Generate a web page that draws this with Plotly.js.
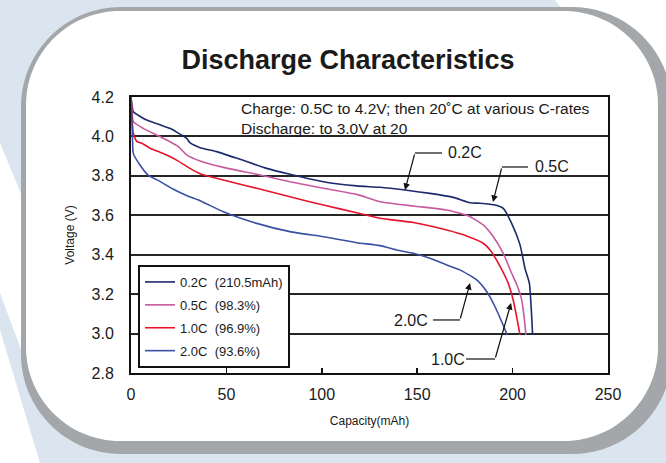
<!DOCTYPE html>
<html>
<head>
<meta charset="utf-8">
<script src="https://cdn.plot.ly/plotly-3.0.1.min.js"></script>
<style>
  html, body { margin: 0; padding: 0; background: #ffffff; }
  #chart { width: 666px; height: 463px; }
</style>
</head>
<body>
<div id="chart"></div>
<script>
// ---- Data ----
const seriesNames = ["0.2C\u00a0\u00a0(210.5mAh)", "0.5C\u00a0\u00a0(98.3%)", "1.0C\u00a0\u00a0(96.9%)", "2.0C\u00a0\u00a0(93.6%)"];
const seriesColors = ["#1b2a6b", "#c75aa0", "#e5142b", "#3b4fa3"];

const capacity02 = [0, 0.5, 1.2, 5, 8.2, 13.4, 16.9, 20.4, 23.9, 29.2, 30.9, 36.2, 44.9, 57.1, 71.1, 83.3, 100.8, 118.3, 130.5, 143.6, 156.7, 168.9, 177.7, 182.9, 190.8, 195.1, 199.5, 203.9, 206.5, 208.8, 210.0, 210.5];
const voltage02  = [4.20, 4.16, 4.125, 4.10, 4.083, 4.065, 4.053, 4.041, 4.022, 3.99, 3.968, 3.943, 3.923, 3.884, 3.838, 3.808, 3.770, 3.749, 3.742, 3.728, 3.711, 3.691, 3.664, 3.661, 3.652, 3.635, 3.559, 3.45, 3.33, 3.255, 3.086, 2.993];

const capacity05 = [0, 0.4, 1.2, 6.4, 13.4, 20.4, 24.8, 29.2, 36.2, 48.4, 65.9, 83.3, 100.8, 118.3, 130.5, 148, 165.5, 172.4, 177.7, 184.6, 189.9, 195.1, 199.5, 202.1, 204.8, 206.0, 207.0];
const voltage05  = [4.20, 4.15, 4.075, 4.041, 4.007, 3.973, 3.948, 3.906, 3.875, 3.843, 3.808, 3.770, 3.737, 3.706, 3.669, 3.647, 3.627, 3.610, 3.593, 3.551, 3.491, 3.407, 3.306, 3.250, 3.170, 3.086, 2.993];

const capacity10 = [0, 0.4, 1.2, 3.0, 6.4, 10.0, 15.2, 18.7, 23.9, 30.9, 36.2, 48.4, 65.9, 83.3, 100.8, 118.3, 130.5, 148, 165.5, 175.9, 184.6, 188.5, 192.5, 197.7, 200.3, 202.1, 203.9];
const voltage10  = [4.20, 4.12, 4.016, 3.975, 3.962, 3.940, 3.920, 3.906, 3.880, 3.838, 3.811, 3.779, 3.737, 3.694, 3.652, 3.613, 3.585, 3.563, 3.525, 3.495, 3.458, 3.42, 3.357, 3.255, 3.170, 3.086, 2.993];

const capacity20 = [0, 0.4, 0.8, 1.2, 4.7, 9.1, 13.4, 18.7, 22.2, 30.0, 36.2, 48.4, 65.9, 83.3, 100.8, 118.3, 130.5, 139.3, 148, 156.7, 165.5, 172.4, 181.2, 186.4, 190.8, 194.3, 197.2];
const voltage20  = [4.20, 4.10, 3.98, 3.914, 3.855, 3.802, 3.781, 3.752, 3.732, 3.697, 3.674, 3.618, 3.559, 3.517, 3.491, 3.461, 3.446, 3.424, 3.407, 3.382, 3.348, 3.323, 3.272, 3.213, 3.136, 3.060, 2.993];

const xTickValues = [0, 50, 100, 150, 200, 250];
const yTickValues = [2.8, 3.0, 3.2, 3.4, 3.6, 3.8, 4.0, 4.2];

const chartTitle = "Discharge Characteristics";
const xTitle = "Capacity(mAh)";
const yTitle = "Voltage (V)";
const noteText = "Charge: 0.5C to 4.2V; then 20\u02DAC at various C-rates<br>Discharge: to 3.0V at 20";

// Curve labels with leader lines (text position, elbow, arrow tip in data units)
const labelTexts = ["0.2C", "0.5C", "2.0C", "1.0C"];
const labelPos   = [[175.0, 3.916], [220.9, 3.845], [146.5, 3.066], [166.4, 2.871]];
const labelElbow = [[148.8, 3.916], [194.4, 3.845], [172.4, 3.069], [190.8, 2.871]];
const labelHEnd  = [[163.0, 3.916], [208.1, 3.845], [158.3, 3.069], [175.6, 2.871]];
const labelTip   = [[143.6, 3.728], [189.7, 3.667], [177.7, 3.257], [199.2, 3.155]];

// ---- Page geometry ----
const W = 666, H = 463;
const M = { l: 131, r: 58, t: 97, b: 90 };
const PW = W - M.l - M.r, PH = H - M.t - M.b;
function px(x) { return ((x - M.l) / PW).toFixed(5); }
function py(y) { return (1 - (y - M.t) / PH).toFixed(5); }
function poly(pts) {
  return pts.map((p, i) => (i ? "L" : "M") + px(p[0]) + "," + py(p[1])).join(" ") + " Z";
}
function roundRect(x0, y0, x1, y1, r) {
  const k = 0.5523 * r;
  const P = (x, y) => px(x) + "," + py(y);
  return "M" + P(x0 + r, y0) +
    " L" + P(x1 - r, y0) +
    " C" + P(x1 - r + k, y0) + " " + P(x1, y0 + r - k) + " " + P(x1, y0 + r) +
    " L" + P(x1, y1 - r) +
    " C" + P(x1, y1 - r + k) + " " + P(x1 - r + k, y1) + " " + P(x1 - r, y1) +
    " L" + P(x0 + r, y1) +
    " C" + P(x0 + r - k, y1) + " " + P(x0, y1 - r + k) + " " + P(x0, y1 - r) +
    " L" + P(x0, y0 + r) +
    " C" + P(x0, y0 + r - k) + " " + P(x0 + r - k, y0) + " " + P(x0 + r, y0) + " Z";
}

const bgBlue = "#dae5f0";
const shapes = [
  { type: "path", xref: "paper", yref: "paper", layer: "below", line: { width: 0 }, fillcolor: bgBlue,
    path: poly([[0, 0], [555, 0], [572, 22], [22, 196], [0, 143]]) },
  { type: "path", xref: "paper", yref: "paper", layer: "below", line: { width: 0 }, fillcolor: bgBlue,
    path: poly([[0, 293], [22, 352], [90, 380], [666, 380], [666, 463], [40, 463], [0, 330]]) },
  { type: "path", xref: "paper", yref: "paper", layer: "below", line: { width: 0 }, fillcolor: "#a3a7a9",
    path: roundRect(21, 7, 672, 454, 100) },
  { type: "path", xref: "paper", yref: "paper", layer: "below", line: { width: 0 }, fillcolor: "#ffffff",
    path: roundRect(26, 11, 658, 441, 94) }
];

// leader horizontal segments
for (let i = 0; i < labelTexts.length; i++) {
  shapes.push({ type: "line", xref: "x", yref: "y",
    x0: labelElbow[i][0], y0: labelElbow[i][1], x1: labelHEnd[i][0], y1: labelHEnd[i][1],
    line: { color: "#111", width: 1.2 } });
}

const annotations = [
  { xref: "x", yref: "y", x: 56.6, y: 4.091, xanchor: "left", yanchor: "middle", align: "left",
    text: noteText, showarrow: false, font: { size: 15.5, color: "#1a1a1a" } }
];
for (let i = 0; i < labelTexts.length; i++) {
  annotations.push({ xref: "x", yref: "y", x: labelPos[i][0], y: labelPos[i][1],
    text: labelTexts[i], showarrow: false, font: { size: 16, color: "#1a1a1a" } });
  annotations.push({ xref: "x", yref: "y", x: labelTip[i][0], y: labelTip[i][1],
    axref: "x", ayref: "y", ax: labelElbow[i][0], ay: labelElbow[i][1],
    text: "", showarrow: true, arrowhead: 2, arrowsize: 1.1, arrowwidth: 1.2, arrowcolor: "#111",
    standoff: 0, startstandoff: 0 });
}

const xs = [capacity02, capacity05, capacity10, capacity20];
const ys = [voltage02, voltage05, voltage10, voltage20];
const traces = xs.map((x, i) => ({
  type: "scatter", mode: "lines", x: x, y: ys[i], name: seriesNames[i],
  legendgroup: "g" + i,
  line: { color: seriesColors[i], width: 1.6, shape: "spline", smoothing: 0.5 }
}));

const layout = {
  width: W, height: H,
  margin: M,
  paper_bgcolor: "#ffffff",
  plot_bgcolor: "rgba(0,0,0,0)",
  font: { family: "Liberation Sans, Arial, sans-serif", color: "#1a1a1a" },
  title: { text: "<b>" + chartTitle + "</b>", xref: "container", yref: "container",
    x: 348 / W, y: 1 - 60 / H, xanchor: "center", yanchor: "middle",
    font: { size: 27, color: "#1a1a1a" } },
  showlegend: true,
  legend: { x: (138 - M.l) / PW, y: 1 - (265 - M.t) / PH, xanchor: "left", yanchor: "top",
    bgcolor: "#ffffff", bordercolor: "#111", borderwidth: 2, font: { size: 13, color: "#1a1a1a" },
    tracegroupgap: 3 },
  xaxis: { range: [0, 250], tickvals: xTickValues, ticktext: xTickValues.map(String),
    ticks: "inside", ticklen: 5, tickwidth: 1.5, tickcolor: "#111",
    showline: true, linecolor: "#111", linewidth: 2, mirror: true,
    showgrid: false, zeroline: false, tickfont: { size: 16 }, ticklabelstandoff: 6,
    title: { text: xTitle, font: { size: 12 }, standoff: 14 } },
  yaxis: { range: [2.8, 4.2], tickvals: yTickValues, ticktext: yTickValues.map(v => v.toFixed(1)),
    ticks: "", showline: true, linecolor: "#111", linewidth: 2, mirror: true,
    showgrid: true, gridcolor: "#262626", gridwidth: 2, zeroline: false,
    tickfont: { size: 16 }, ticklabelstandoff: 12,
    title: { text: yTitle, font: { size: 12 }, standoff: 14 } },
  shapes: shapes,
  annotations: annotations
};

Plotly.newPlot("chart", traces, layout, { staticPlot: true, displayModeBar: false });
</script>
</body>
</html>
